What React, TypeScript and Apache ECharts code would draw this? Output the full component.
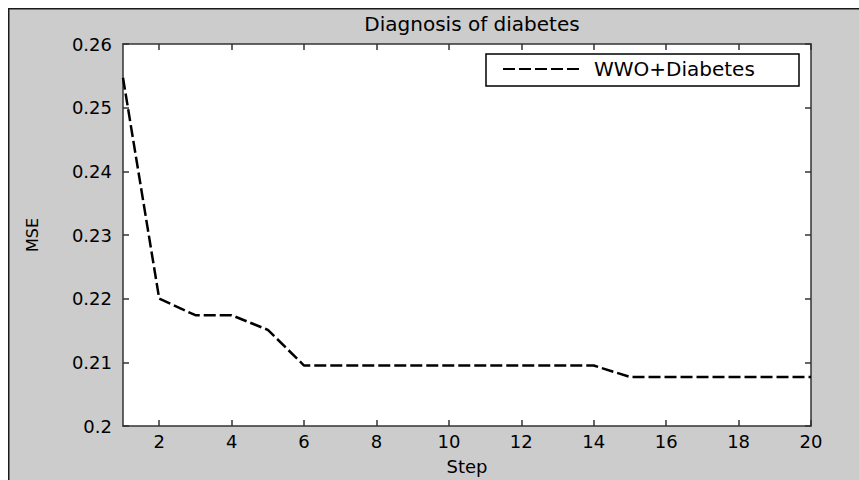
import React, { useEffect, useRef } from "react";
import * as echarts from "echarts";

const titleText = "Diagnosis of diabetes";
const seriesName = "WWO+Diabetes";
const xAxisName = "Step";
const yAxisName = "MSE";
const steps = [1, 2, 3, 4, 5, 6, 7, 8, 9, 10, 11, 12, 13, 14, 15, 16, 17, 18, 19, 20];
const mseValues = [
  0.2547, 0.22, 0.2174, 0.2174, 0.2151, 0.2095, 0.2095, 0.2095, 0.2095, 0.2095,
  0.2095, 0.2095, 0.2095, 0.2095, 0.2077, 0.2077, 0.2077, 0.2077, 0.2077, 0.2077,
];
const xTickValues = [2, 4, 6, 8, 10, 12, 14, 16, 18, 20];
const yMin = 0.2;
const yMax = 0.26;
const yStep = 0.01;

export default function App() {
  const ref = useRef<HTMLDivElement>(null);

  useEffect(() => {
    if (!ref.current) return;
    const chart = echarts.init(ref.current, null, { renderer: "svg" });
    const font = "DejaVu Sans";
    const axisColor = "#333333";
    const tickFont = { fontFamily: font, fontSize: 18, color: "#000000" };

    const xCommon = {
      type: "value" as const,
      min: 1,
      max: 20,
      splitLine: { show: false },
      axisLine: { show: true, lineStyle: { color: axisColor, width: 1.5 } },
      axisTick: {
        show: true,
        inside: true,
        length: 6,
        customValues: xTickValues,
        lineStyle: { color: axisColor, width: 1.5 },
      },
    };
    const yCommon = {
      type: "value" as const,
      min: yMin,
      max: yMax,
      interval: yStep,
      splitLine: { show: false },
      axisLine: { show: true, lineStyle: { color: axisColor, width: 1.5 } },
      axisTick: { show: true, inside: true, length: 6, lineStyle: { color: axisColor, width: 1.5 } },
    };

    chart.setOption({
      animation: false,
      backgroundColor: "#cccccc",
      title: {
        text: titleText,
        left: 459,
        top: 1,
        textAlign: "center",
        textStyle: { fontFamily: font, fontSize: 20, fontWeight: "normal", color: "#000000" },
      },
      grid: {
        left: 115,
        top: 36,
        right: 48,
        bottom: 51,
        show: true,
        backgroundColor: "#ffffff",
        borderWidth: 0,
      },
      legend: {
        data: [seriesName],
        left: 494,
        top: 51,
        itemWidth: 77,
        itemHeight: 14,
        padding: 0,
        itemStyle: { opacity: 0, color: "rgba(0,0,0,0)", borderWidth: 0 },
        textStyle: { fontFamily: font, fontSize: 20, color: "#000000", padding: [0, 0, 0, 9] },
      },
      xAxis: [
        {
          ...xCommon,
          position: "bottom",
          name: xAxisName,
          nameLocation: "middle",
          nameGap: 31,
          nameTextStyle: { fontFamily: font, fontSize: 18, color: "#000000" },
          axisLabel: { ...tickFont, margin: 6, customValues: xTickValues },
        },
        {
          ...xCommon,
          position: "top",
          axisLabel: { show: false },
        },
      ],
      yAxis: [
        {
          ...yCommon,
          position: "left",
          name: yAxisName,
          nameLocation: "middle",
          nameGap: 83,
          nameTextStyle: { fontFamily: font, fontSize: 16, color: "#000000" },
          axisLabel: { ...tickFont, margin: 11 },
        },
        {
          ...yCommon,
          position: "right",
          axisLabel: { show: false },
        },
      ],
      graphic: [
        {
          type: "rect",
          z: 1,
          shape: { x: 478, y: 46, width: 313, height: 32 },
          style: { fill: "#ffffff", stroke: "#000000", lineWidth: 1.5 },
        },
        {
          type: "line",
          shape: { x1: 0, y1: 0.75, x2: 851, y2: 0.75 },
          style: { stroke: "#1a1a1a", lineWidth: 1.5 },
        },
        {
          type: "line",
          shape: { x1: 0.75, y1: 0, x2: 0.75, y2: 472 },
          style: { stroke: "#1a1a1a", lineWidth: 1.5 },
        },
      ],
      series: [
        {
          name: seriesName,
          type: "line",
          xAxisIndex: 0,
          yAxisIndex: 0,
          symbol: "none",
          data: steps.map((s, i) => [s, mseValues[i]]),
          lineStyle: { color: "#000000", width: 2.5, type: [12, 4] },
          itemStyle: { color: "#000000" },
        },
      ],
    });

    return () => chart.dispose();
  }, []);

  return (
    <div
      ref={ref}
      style={{ position: "fixed", left: 8, top: 8, width: 851, height: 472 }}
    />
  );
}
